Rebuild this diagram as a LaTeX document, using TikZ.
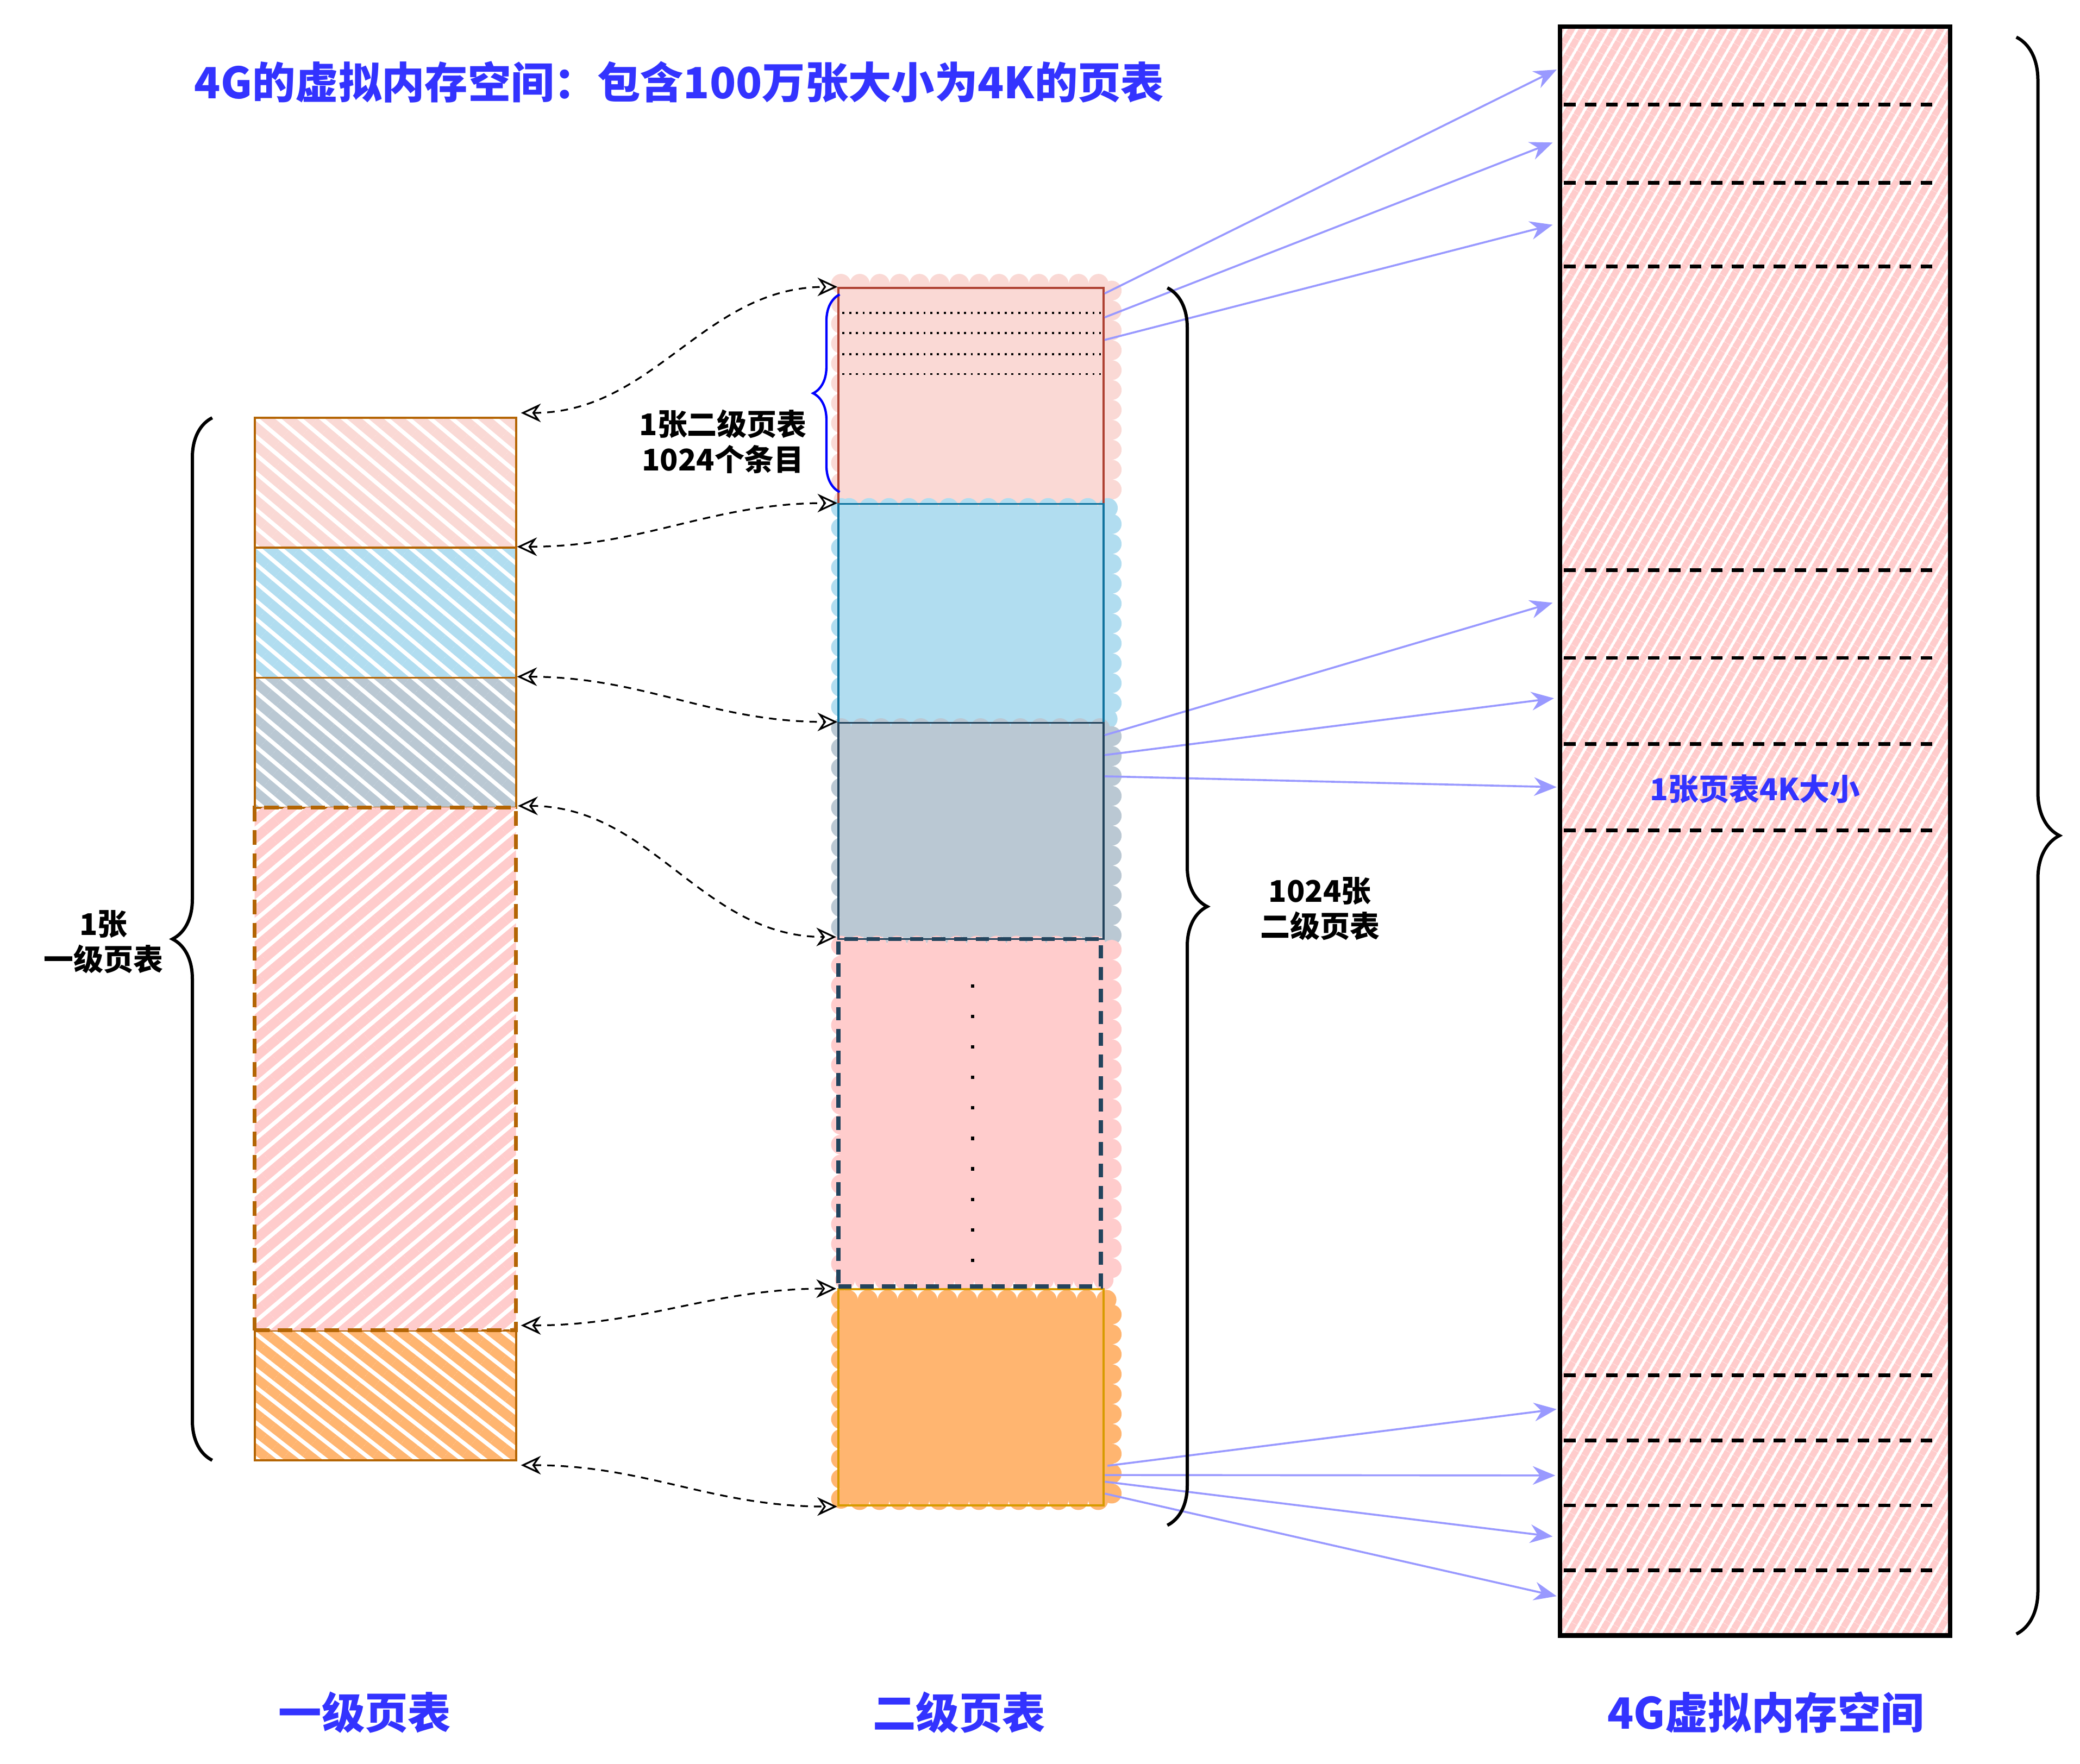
\documentclass[tikz,border=0pt]{standalone}
\usepackage{fontspec}
\newfontfamily\cjk{Noto Sans CJK SC}
\usepackage{tikz}
\usetikzlibrary{arrows.meta,positioning,fit,calc,patterns.meta,decorations.pathreplacing}
\definecolor{titleblue}{HTML}{3333FF}
\definecolor{hatchpink}{HTML}{FAD9D5}
\definecolor{hatchblue}{HTML}{B1DDF0}
\definecolor{hatchgray}{HTML}{BAC8D3}
\definecolor{hatchrose}{HTML}{FFCCCC}
\definecolor{hatchorange}{HTML}{FFB570}
\definecolor{tablebrown}{HTML}{B46504}
\definecolor{redline}{HTML}{AE4132}
\definecolor{blueline}{HTML}{10739E}
\definecolor{navyline}{HTML}{23445D}
\definecolor{goldline}{HTML}{D79B00}
\definecolor{maplilac}{HTML}{9999FF}
\tikzset{
  hatch/.style 2 args={
    pattern={Lines[angle=#1,distance=6pt,line width=4.2pt]},
    pattern color=#2
  },
  lvonebox/.style={
    draw=tablebrown,
    line width=0.9pt,
    inner sep=0pt
  },
  lvtwobox/.style={
    draw=#1,
    line width=0.8pt,
    inner sep=0pt
  },
  blob/.style={
    fill=#1,
    draw=#1,
    line width=0.3cm,
    dash pattern=on 0pt off 0.3cm,
    line cap=round
  },
  vmembox/.style={
    draw=black,
    line width=2pt,
    inner sep=0pt,
    pattern={Lines[angle=60,distance=4pt,line width=2.9pt]},
    pattern color=hatchrose
  },
  pagesep/.style={
    draw=black,
    line width=1.6pt,
    dash pattern=on 5pt off 4pt
  },
  ptrarrow/.style={
    {Stealth[open,length=3mm,width=2.8mm]}-{Stealth[open,length=3mm,width=2.8mm]},
    draw=black,
    line width=0.75pt,
    dash pattern=on 3.2pt off 2.6pt
  },
  maparrow/.style={
    -{Stealth[length=3.4mm,width=2.8mm]},
    draw=maplilac,
    line width=0.85pt
  },
  bracestyle/.style={
    decorate,
    decoration={brace,amplitude=#1},
    line width=1.4pt
  },
  titletext/.style={
    font=\cjk\bfseries\fontsize{18.5}{22}\selectfont,
    text=titleblue
  },
  notetext/.style={
    font=\cjk\bfseries\fontsize{12.8}{15.2}\selectfont,
    align=center
  }
}

\begin{document}
\begin{tikzpicture}[x=0.02cm,y=-0.02cm]
\useasboundingbox (0,0) rectangle (1568,1330);
\node[titletext] (title) at (512,62) {4G的虚拟内存空间：包含100万张大小为4K的页表};

\node[lvonebox, hatch={-40}{hatchpink}, fit={(192,315) (389,413)}] (l1) {};
\node[lvonebox, hatch={-40}{hatchblue}, fit={(192,413) (389,511)}] (l2) {};
\node[lvonebox, hatch={-40}{hatchgray}, fit={(192,511) (389,609)}] (l3) {};
\node[lvonebox, hatch={-38}{hatchorange}, fit={(192,1003) (389,1101)}] (l5) {};
\node[lvonebox, hatch={40}{hatchrose}, line width=1.6pt, dash pattern=on 0.22cm off 0.13cm, fit={(192,609) (389,1003)}] (l4) {};

\path[blob=hatchpink] (634,214) rectangle (838,377);
\path[blob=hatchblue] (634,383) rectangle (838,542);
\path[blob=hatchgray] (634,549) rectangle (838,705);
\path[blob=hatchorange] (634,980) rectangle (838,1131);
\path[blob=hatchrose] (634,713) rectangle (838,965);
\node[lvtwobox=redline, fit={(632,217) (832,380)}] (m1) {};
\node[lvtwobox=blueline, fit={(632,380) (832,545)}] (m2) {};
\node[lvtwobox=navyline, fit={(632,545) (832,708)}] (m3) {};
\node[lvtwobox=goldline, line width=1pt, fit={(632,972) (832,1135)}] (m5) {};
\node[lvtwobox=navyline, line width=1.8pt, dash pattern=on 0.2cm off 0.13cm, fit={(632,708) (830,970)}] (m4) {};
\foreach \y in {236,251,267,282}
  \draw[dotted, line width=0.9pt] (635,\y) -- (830,\y);
\foreach \i in {0,...,9}
  \fill (732,{742+23*\i}) rectangle ++(2.6,2.6);

\node[vmembox, fit={(1176,20) (1470,1233)}] (vmem) {};
\foreach \y in {79,138,201,430,496,561,626,1037,1086,1135,1184}
  \draw[pagesep] (1179,\y) -- (1462,\y);
\node[notetext, text=titleblue, font=\cjk\bfseries\fontsize{13}{15}\selectfont] (pagelabel) at (1323,595) {1张页表4K大小};

\draw[ptrarrow] (l1.north east) to[out=0,in=180] (m1.north west);
\draw[ptrarrow] (l2.north east) to[out=0,in=180] (m2.north west);
\draw[ptrarrow] (l3.north east) to[out=0,in=180] (m3.north west);
\draw[ptrarrow] (l4.north east) to[out=0,in=180] (m4.north west);
\draw[ptrarrow] (l5.north east) to[out=0,in=180] (m4.south west);
\draw[ptrarrow] (l5.south east) to[out=0,in=180] (m5.south west);

\draw[maparrow] ($(m1.north east)+(0,5)$) -- ($(vmem.north west)+(0,35)$);
\draw[maparrow] ($(m1.north east)+(0,23)$) -- ($(vmem.north west)+(-3,90)$);
\draw[maparrow] ($(m1.north east)+(0,40)$) -- ($(vmem.north west)+(-3,152)$);
\draw[maparrow] ($(m3.north east)+(0,10)$) -- ($(vmem.north west)+(-3,437)$);
\draw[maparrow] ($(m3.north east)+(0,25)$) -- ($(vmem.north west)+(-2,509)$);
\draw[maparrow] ($(m3.north east)+(0,41)$) -- ($(vmem.north west)+(0,576)$);
\draw[maparrow] ($(m5.north east)+(2,134)$) -- ($(vmem.north west)+(0,1045)$);
\draw[maparrow] ($(m5.north east)+(0,141)$) -- ($(vmem.north west)+(-1,1095)$);
\draw[maparrow] ($(m5.north east)+(0,146)$) -- ($(vmem.north west)+(-3,1141)$);
\draw[maparrow] ($(m5.north east)+(0,155)$) -- ($(vmem.north west)+(0,1186)$);

\draw[bracestyle=0.4cm, draw=blue, line width=1pt] (633,371) -- (633,222);
\draw[bracestyle=0.6cm] (160,1101) -- (160,315);
\draw[bracestyle=0.6cm] (880,217) -- (880,1150);
\draw[bracestyle=0.65cm] (1520,28) -- (1520,1232);

\node[notetext] (lvonenote) at (78,710) {1张\\一级页表};
\node[notetext] (entrynote) at (545,333) {1张二级页表\\1024个条目};
\node[notetext] (lvtwonote) at (995,685) {1024张\\二级页表};

\node[titletext] (lvonehead) at (275,1291) {一级页表};
\node[titletext] (lvtwohead) at (723,1291) {二级页表};
\node[titletext] (vmemhead) at (1331,1291) {4G虚拟内存空间};
\end{tikzpicture}
\end{document}
